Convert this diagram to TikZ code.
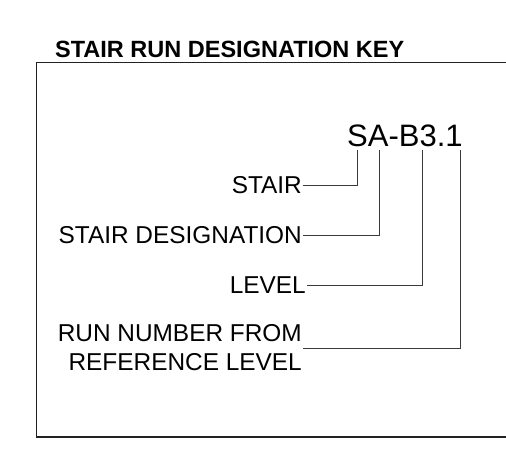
\documentclass[tikz,border=0pt]{standalone}
\usepackage{fontspec}
\setmainfont{Liberation Sans}
\usetikzlibrary{positioning}
\definecolor{KeyLine}{HTML}{3A3A3A}
\definecolor{Frame}{HTML}{222222}

\begin{document}
\begin{tikzpicture}[x=1pt, y=-1pt, font=\fontsize{24.4}{29}\selectfont]
\tikzset{keylabel/.style={anchor=east, align=right, inner sep=1pt}, leader/.style={draw=KeyLine, line width=.9pt}, frame/.style={draw=Frame, line width=1.4pt}, title/.style={anchor=base west, inner sep=0pt, font=\fontsize{23.5}{28}\selectfont\bfseries}, code/.style={anchor=base west, inner sep=0pt, font=\fontsize{31}{36}\selectfont}}
\useasboundingbox (0,0) rectangle (506,450);
\node[title] (title) at (55,57) {STAIR RUN DESIGNATION KEY};
\draw[frame] (508,62.5) -- (36.5,62.5) -- (36.5,437) -- (508,437);
\node[code] (code) at (347,146) {SA-B3.1};
\foreach \name/\x/\y/\tx/\label in {stair/303/185/357/STAIR, desig/303/235/379/STAIR DESIGNATION, level/307/285/422/LEVEL, run/303/348/460/RUN NUMBER FROM\\REFERENCE LEVEL} {
  \node[keylabel] (\name) at (\x,\y) {\label};
  \coordinate (\name tick) at (\tx,150);
  \draw[leader] (\name.east) -| (\name tick);
}
\end{tikzpicture}
\end{document}
